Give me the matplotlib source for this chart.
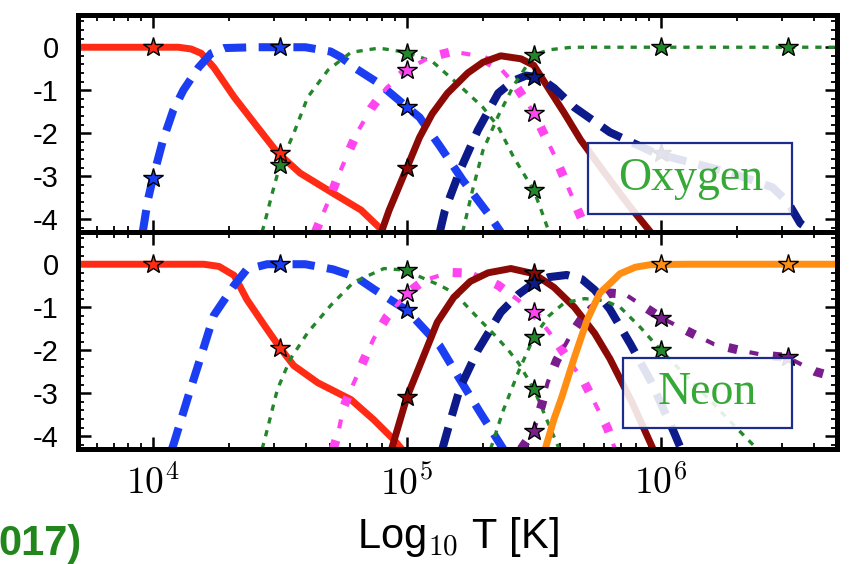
import numpy as np
import matplotlib
matplotlib.use('Agg')
import matplotlib.pyplot as plt
from matplotlib.ticker import MultipleLocator, LogLocator, NullFormatter
from matplotlib.patches import Rectangle

plt.rcParams['font.family'] = ['Liberation Sans', 'DejaVu Sans']
plt.rcParams['mathtext.fontset'] = 'cm'
plt.rcParams['axes.unicode_minus'] = False
plt.rcParams['lines.scale_dashes'] = False

# ---- Oxygen ion fractions: log10 T and log10 fraction ----
o1_t = [3.70, 4.00, 4.10, 4.15, 4.19, 4.24, 4.32, 4.40, 4.49, 4.58, 4.71, 4.82, 4.91]
o1_f = [0.0, 0.0, 0.0, -0.04, -0.14, -0.47, -1.16, -1.77, -2.45, -2.93, -3.40, -3.79, -4.30]
o2_t = [3.96, 3.98, 4.00, 4.04, 4.08, 4.12, 4.18, 4.23, 4.28, 4.40, 4.60, 4.70, 4.74, 4.80, 4.89, 5.00, 5.05, 5.13, 5.22, 5.33, 5.37]
o2_f = [-4.3, -3.56, -3.05, -2.16, -1.47, -1.0, -0.47, -0.14, -0.02, 0.0, 0.0, -0.1, -0.23, -0.5, -0.84, -1.39, -1.63, -2.3, -3.09, -3.95, -4.3]
o3_t = [4.43, 4.44, 4.47, 4.50, 4.555, 4.61, 4.69, 4.78, 4.89, 5.00, 5.10, 5.20, 5.30, 5.36, 5.42, 5.50, 5.53, 5.56]
o3_f = [-4.3, -4.09, -3.4, -2.75, -2.0, -1.16, -0.53, -0.12, -0.02, -0.12, -0.33, -0.85, -1.4, -1.85, -2.55, -3.33, -3.8, -4.3]
o4_t = [4.64, 4.69, 4.73, 4.77, 4.81, 4.86, 4.92, 5.00, 5.09, 5.18, 5.28, 5.37, 5.43, 5.50, 5.58, 5.66, 5.71]
o4_f = [-4.3, -3.6, -3.0, -2.44, -1.93, -1.42, -0.95, -0.53, -0.23, -0.1, -0.2, -0.5, -0.9, -1.53, -2.5, -3.6, -4.3]
o5_t = [4.90, 4.93, 5.00, 5.05, 5.10, 5.16, 5.24, 5.30, 5.37, 5.45, 5.50, 5.555, 5.62, 5.685, 5.78, 5.88, 5.96]
o5_f = [-4.3, -3.8, -2.81, -2.1, -1.55, -1.07, -0.6, -0.35, -0.2, -0.27, -0.42, -0.93, -1.53, -2.16, -2.93, -3.72, -4.3]
o6_t = [5.13, 5.15, 5.21, 5.28, 5.36, 5.42, 5.47, 5.52, 5.58, 5.66, 5.80, 5.98, 6.13, 6.28, 6.44, 6.50, 6.55, 6.60]
o6_f = [-4.3, -3.8, -2.86, -1.93, -1.07, -0.78, -0.66, -0.7, -0.95, -1.4, -1.98, -2.47, -2.7, -2.93, -3.26, -3.6, -4.1, -4.3]
o7_t = [5.22, 5.26, 5.30, 5.36, 5.42, 5.47, 5.50, 5.56, 5.65, 6.70]
o7_f = [-4.3, -3.3, -2.4, -1.6, -0.9, -0.45, -0.18, -0.06, 0.0, 0.0]

# comparison points (stars) for oxygen
o1_st, o1_sf = [4.0, 4.5], [0.0, -2.45]
o2_st, o2_sf = [4.0, 4.5, 5.0], [-3.05, 0.0, -1.39]
o3_st, o3_sf = [4.5, 5.0, 5.5], [-2.75, -0.14, -3.33]
o4_st, o4_sf = [5.0, 5.5], [-0.53, -1.53]
o5_st, o5_sf = [5.0], [-2.81]
o6_st, o6_sf = [5.5, 6.0], [-0.7, -2.45]
o7_st, o7_sf = [5.5, 6.0, 6.5], [-0.18, 0.0, 0.0]

# ---- Neon ion fractions ----
ne1_t = [3.70, 4.00, 4.20, 4.26, 4.32, 4.37, 4.44, 4.50, 4.555, 4.65, 4.78, 4.87, 4.95, 4.98]
ne1_f = [0.0, 0.0, 0.0, -0.05, -0.26, -0.82, -1.43, -1.94, -2.36, -2.76, -3.15, -3.62, -4.09, -4.3]
ne2_t = [4.075, 4.083, 4.14, 4.19, 4.24, 4.32, 4.37, 4.45, 4.60, 4.71, 4.80, 4.87, 5.00, 5.13, 5.21, 5.29, 5.38]
ne2_f = [-4.3, -4.16, -3.06, -2.13, -1.19, -0.49, -0.12, 0.0, 0.0, -0.12, -0.3, -0.58, -1.07, -1.9, -2.69, -3.46, -4.3]
ne3_t = [4.43, 4.44, 4.49, 4.54, 4.61, 4.70, 4.79, 4.91, 5.00, 5.055, 5.13, 5.19, 5.24, 5.29, 5.34, 5.40, 5.44, 5.50, 5.55, 5.60]
ne3_f = [-4.3, -4.09, -2.92, -2.22, -1.59, -0.96, -0.42, -0.1, -0.14, -0.3, -0.49, -0.68, -1.0, -1.31, -1.61, -2.0, -2.3, -2.9, -3.6, -4.3]
ne4_t = [4.71, 4.73, 4.75, 4.79, 4.83, 4.87, 4.92, 5.00, 5.07, 5.17, 5.26, 5.36, 5.44, 5.50, 5.58, 5.70, 5.79, 5.82]
ne4_f = [-4.3, -3.93, -3.34, -2.78, -2.24, -1.73, -1.24, -0.68, -0.37, -0.19, -0.21, -0.49, -0.84, -1.12, -1.73, -2.76, -3.81, -4.3]
ne5_t = [4.94, 4.97, 5.00, 5.055, 5.12, 5.185, 5.25, 5.32, 5.41, 5.50, 5.58, 5.66, 5.74, 5.80, 5.89, 5.97]
ne5_f = [-4.3, -3.7, -3.1, -2.3, -1.35, -0.77, -0.4, -0.2, -0.1, -0.22, -0.54, -1.0, -1.61, -2.2, -3.25, -4.3]
ne6_t = [5.14, 5.16, 5.21, 5.28, 5.37, 5.44, 5.50, 5.56, 5.63, 5.69, 5.74, 5.80, 5.88, 5.96, 6.05, 6.08]
ne6_f = [-4.3, -3.88, -2.87, -2.0, -1.12, -0.7, -0.44, -0.3, -0.25, -0.35, -0.6, -1.05, -1.85, -2.71, -3.88, -4.3]
ne7_t = [5.33, 5.38, 5.44, 5.50, 5.56, 5.62, 5.70, 5.78, 5.84, 5.92, 6.00, 6.10, 6.20, 6.31, 6.38]
ne7_f = [-4.3, -3.4, -2.5, -1.7, -1.2, -0.9, -0.8, -0.85, -1.0, -1.47, -2.0, -2.6, -3.2, -3.88, -4.3]
ne8_t = [5.45, 5.50, 5.53, 5.555, 5.59, 5.65, 5.72, 5.80, 5.86, 6.00, 6.12, 6.21, 6.31, 6.41, 6.50, 6.61, 6.70]
ne8_f = [-4.3, -3.88, -3.3, -2.75, -2.24, -1.6, -1.0, -0.67, -0.7, -1.24, -1.6, -1.86, -2.0, -2.12, -2.17, -2.5, -2.65]
ne9_t = [5.545, 5.555, 5.58, 5.61, 5.66, 5.71, 5.76, 5.80, 5.84, 5.90, 5.96, 6.10, 6.70]
ne9_f = [-4.3, -4.1, -3.6, -3.1, -2.17, -1.3, -0.67, -0.45, -0.22, -0.07, -0.01, 0.0, 0.0]

ne1_st, ne1_sf = [4.0, 4.5], [0.0, -1.94]
ne2_st, ne2_sf = [4.5, 5.0], [0.0, -1.07]
ne3_st, ne3_sf = [5.0, 5.5], [-0.14, -2.9]
ne4_st, ne4_sf = [5.0, 5.5], [-0.68, -1.12]
ne5_st, ne5_sf = [5.0, 5.5], [-3.1, -0.2]
ne6_st, ne6_sf = [5.5], [-0.44]
ne7_st, ne7_sf = [5.5, 6.0], [-1.7, -2.0]
ne8_st, ne8_sf = [5.5, 6.0, 6.5], [-3.88, -1.24, -2.17]
ne9_st, ne9_sf = [6.0, 6.5], [0.0, 0.0]

RED = '#ff2b14'
BLUE = '#1b3ef2'
GREEN = '#24862a'
MAGENTA = '#ff45f0'
MAROON = '#8c0a06'
NAVY = '#0c1a8a'
PURPLE = '#7a1d8c'
ORANGE = '#ff8e12'


def draw(ax, t, f, style, color):
    x = 10 ** np.array(t)
    if style == 'solid':
        ax.plot(x, f, color=color, lw=5, solid_capstyle='butt')
    elif style == 'dashed':
        ax.plot(x, f, color=color, lw=5.8, linestyle=(0, (16, 9)))
    elif style == 'dotted':
        ax.plot(x, f, color=color, lw=2.4, linestyle=(0, (4.5, 5)))
    elif style == 'dashdot':
        # fat square dots with thin dashes in between
        ax.plot(x, f, color=color, lw=6.5, linestyle=(0, (6.5, 26)))
        ax.plot(x, f, color=color, lw=3, linestyle=(17, (6.5, 26)))


def stars(ax, t, f, color):
    ax.plot(10 ** np.array(t), f, linestyle='none', marker='*', ms=15,
            mfc=color, mec='black', mew=1.0, zorder=10)


def label_box(ax, x0, y0, w, h, text):
    ax.add_patch(Rectangle((x0, y0), w, h, transform=ax.transAxes,
                           facecolor='white', alpha=0.88, edgecolor='none', zorder=20))
    ax.add_patch(Rectangle((x0, y0), w, h, transform=ax.transAxes,
                           facecolor='none', edgecolor='#1c2c8c', lw=1.6, zorder=21))
    ax.text(x0 + w / 2, y0 + h / 2, text, transform=ax.transAxes,
            ha='center', va='center', fontsize=33, color='#36a836',
            family='Liberation Serif', zorder=22)


fig = plt.figure(figsize=(8.56, 5.64), dpi=100)
gs = fig.add_gridspec(2, 1, left=0.0911, right=0.978, top=0.9734, bottom=0.2039, hspace=0)
ax_o = fig.add_subplot(gs[0])
ax_ne = fig.add_subplot(gs[1], sharex=ax_o)

draw(ax_o, o1_t, o1_f, 'solid', RED)
draw(ax_o, o2_t, o2_f, 'dashed', BLUE)
draw(ax_o, o3_t, o3_f, 'dotted', GREEN)
draw(ax_o, o4_t, o4_f, 'dashdot', MAGENTA)
draw(ax_o, o5_t, o5_f, 'solid', MAROON)
draw(ax_o, o6_t, o6_f, 'dashed', NAVY)
draw(ax_o, o7_t, o7_f, 'dotted', GREEN)
stars(ax_o, o1_st, o1_sf, RED)
stars(ax_o, o2_st, o2_sf, BLUE)
stars(ax_o, o3_st, o3_sf, GREEN)
stars(ax_o, o4_st, o4_sf, MAGENTA)
stars(ax_o, o5_st, o5_sf, MAROON)
stars(ax_o, o6_st, o6_sf, NAVY)
stars(ax_o, o7_st, o7_sf, GREEN)

draw(ax_ne, ne1_t, ne1_f, 'solid', RED)
draw(ax_ne, ne2_t, ne2_f, 'dashed', BLUE)
draw(ax_ne, ne3_t, ne3_f, 'dotted', GREEN)
draw(ax_ne, ne4_t, ne4_f, 'dashdot', MAGENTA)
draw(ax_ne, ne5_t, ne5_f, 'solid', MAROON)
draw(ax_ne, ne6_t, ne6_f, 'dashed', NAVY)
draw(ax_ne, ne7_t, ne7_f, 'dotted', GREEN)
draw(ax_ne, ne8_t, ne8_f, 'dashdot', PURPLE)
draw(ax_ne, ne9_t, ne9_f, 'solid', ORANGE)
stars(ax_ne, ne1_st, ne1_sf, RED)
stars(ax_ne, ne2_st, ne2_sf, BLUE)
stars(ax_ne, ne3_st, ne3_sf, GREEN)
stars(ax_ne, ne4_st, ne4_sf, MAGENTA)
stars(ax_ne, ne5_st, ne5_sf, MAROON)
stars(ax_ne, ne6_st, ne6_sf, NAVY)
stars(ax_ne, ne7_st, ne7_sf, GREEN)
stars(ax_ne, ne8_st, ne8_sf, PURPLE)
stars(ax_ne, ne9_st, ne9_sf, ORANGE)

label_box(ax_o, 0.672, 0.084, 0.269, 0.325, 'Oxygen')
label_box(ax_ne, 0.718, 0.095, 0.223, 0.325, 'Neon')

for ax in (ax_o, ax_ne):
    ax.set_xscale('log')
    ax.set_xlim(10 ** 3.705, 10 ** 6.695)
    ax.set_ylim(-4.3, 0.75)
    ax.set_yticks([0, -1, -2, -3, -4])
    ax.set_yticklabels(['0', '-1', '-2', '-3', '-4'])
    ax.yaxis.set_minor_locator(MultipleLocator(0.2))
    ax.xaxis.set_minor_locator(LogLocator(base=10, subs=np.arange(2, 10)))
    ax.xaxis.set_minor_formatter(NullFormatter())
    ax.tick_params(which='both', direction='in', top=True, right=True)
    ax.tick_params(which='major', length=9, width=1.8, labelsize=21, pad=14)
    ax.tick_params(which='minor', length=4.5, width=1.3)
    for sp in ax.spines.values():
        sp.set_linewidth(3.6)

ax_ne.set_xticks([1e4, 1e5, 1e6])
ax_ne.set_xticklabels(['$10^4$', '$10^5$', '$10^6$'])
ax_ne.tick_params(axis='x', which='major', labelsize=27, pad=12)
plt.setp(ax_o.get_xticklabels(), visible=False)
ax_ne.set_xlabel('Log$_{10}$ T [K]', fontsize=30, labelpad=9)

# trailing part of the citation year in the lower-left corner
fig.text(-0.002, 0.0, '017)', ha='left', va='bottom', fontsize=30,
         fontweight='bold', color='#22861c')

fig.savefig('out.png', dpi=100)
